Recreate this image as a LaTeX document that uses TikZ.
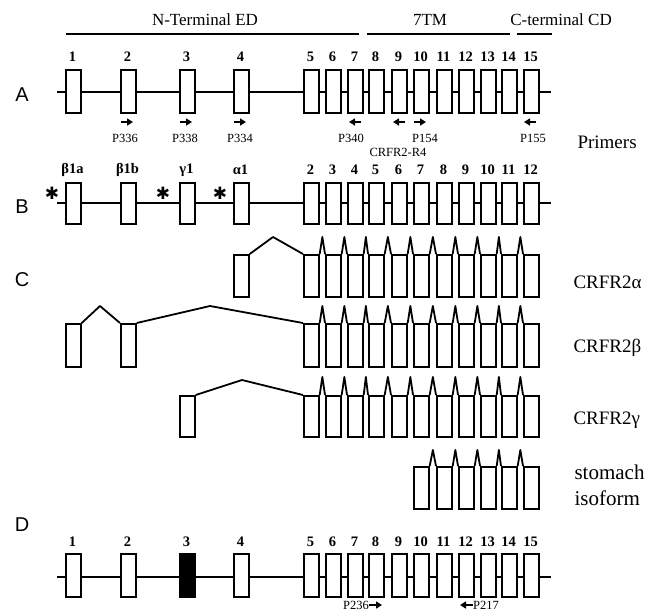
\documentclass[tikz,border=0pt]{standalone}
\usepackage{fontspec}
\setmainfont{Liberation Serif}
\newfontfamily\lsans{Liberation Sans}
\newfontfamily\djv{DejaVu Sans}
\usetikzlibrary{arrows.meta,calc}
\begin{document}
\begin{tikzpicture}[x=1pt,y=-1pt,
  exon/.style={draw, line width=1.7pt, fill=white, minimum width=15pt, inner sep=0pt, anchor=north west},
  filled/.style={fill=black},
  gene/.style={line width=1.8pt},
  splice/.style={line width=1.8pt, line join=round},
  hline/.style={line width=2.4pt},
  parr/.style={line width=1.6pt, -{Triangle[length=6pt,width=7pt]}},
  small/.style={font=\fontsize{12.5}{14}\selectfont},
  num/.style={font=\fontsize{14.5}{16}\selectfont\bfseries},
  head/.style={font=\fontsize{17}{20}\selectfont},
  big/.style={font=\fontsize{19}{22}\selectfont, anchor=west},
  rowl/.style={font=\lsans\fontsize{20}{22}\selectfont},
  star/.style={font=\djv\fontsize{17}{17}\selectfont}
]
\useasboundingbox (0,0) rectangle (668,614);

% ---------- header ----------
\node[head] (hN) at (205,20) {N-Terminal ED};
\node[head] (hT) at (430,20) {7TM};
\node[head] (hC) at (561,20) {C-terminal CD};
\draw[hline] (66,34) -- (359,34);
\draw[hline] (367,34) -- (510,34);
\draw[hline] (517,34) -- (552,34);

% ---------- row A ----------
\node[rowl] (lA) at (22,95) {A};
\draw[gene] (57,92) -- (551,92);
\foreach \x [count=\i] in {65,120,179,233,303,325,347,368,391,413,436,458,480,501,523}{
  \node[exon, minimum height=43pt] (A\i) at (\x,69) {};
  \node[num] (nA\i) at (\x+7.5,57) {\i};
}
% primers
\foreach \x in {127,186,240,420}{
  \draw[parr] (\x-6,122) -- (\x+6,122);
}
\foreach \x in {355,399,530}{
  \draw[parr] (\x+6,122) -- (\x-6,122);
}
\node[small] (p336) at (125,138) {P336};
\node[small] (p338) at (185,138) {P338};
\node[small] (p334) at (240,138) {P334};
\node[small] (p340) at (351,138) {P340};
\node[small] (p154) at (425,138) {P154};
\node[small] (p155) at (533,138) {P155};
\node[small] (r4) at (398,152) {CRFR2-R4};
\node[big] (prim) at (574,142) {Primers};

% ---------- row B ----------
\node[rowl] (lB) at (22,207) {B};
\draw[gene] (57,203) -- (551,203);
\foreach \x/\l [count=\i] in {65/β1a,120/β1b,179/γ1,233/α1,303/2,325/3,347/4,368/5,391/6,413/7,436/8,458/9,480/10,501/11,523/12}{
  \node[exon, minimum height=41pt] (B\i) at (\x,182) {};
  \node[num] (nB\i) at (\x+7.5,170) {\l};
}
\node[star] (s1) at (52,193) {✱};
\node[star] (s2) at (163,193) {✱};
\node[star] (s3) at (220,193) {✱};

% ---------- row C ----------
\node[rowl] (lC) at (22,280) {C};

% alpha
\node[exon, minimum height=42pt] (Ca0) at (233,254) {};
\foreach \x [count=\i] in {303,325,347,368,391,413,436,458,480,501,523}{
  \node[exon, minimum height=42pt] (Ca\i) at (\x,254) {};
}
\draw[splice] (Ca0.north east) -- (273,237) -- (Ca1.north west);
\foreach \i [evaluate=\i as \j using int(\i+1)] in {1,...,10}{
  \draw[splice] (Ca\i.north east) -- ($(Ca\i.north east)!.5!(Ca\j.north west)+(0,-17)$) -- (Ca\j.north west);
}
\node[big] (tA) at (570,282) {CRFR2α};

% beta
\node[exon, minimum height=43pt] (Cbb1) at (65,323) {};
\node[exon, minimum height=43pt] (Cbb2) at (120,323) {};
\foreach \x [count=\i] in {303,325,347,368,391,413,436,458,480,501,523}{
  \node[exon, minimum height=43pt] (Cb\i) at (\x,323) {};
}
\draw[splice] (Cbb1.north east) -- (100,306) -- (Cbb2.north west);
\draw[splice] (Cbb2.north east) -- (210,306) -- (Cb1.north west);
\foreach \i [evaluate=\i as \j using int(\i+1)] in {1,...,10}{
  \draw[splice] (Cb\i.north east) -- ($(Cb\i.north east)!.5!(Cb\j.north west)+(0,-17)$) -- (Cb\j.north west);
}
\node[big] (tB) at (570,348) {CRFR2β};

% gamma
\node[exon, minimum height=41pt] (Cg0) at (179,395) {};
\foreach \x [count=\i] in {303,325,347,368,391,413,436,458,480,501,523}{
  \node[exon, minimum height=41pt] (Cg\i) at (\x,395) {};
}
\draw[splice] (Cg0.north east) -- (242,380) -- (Cg1.north west);
\foreach \i [evaluate=\i as \j using int(\i+1)] in {1,...,10}{
  \draw[splice] (Cg\i.north east) -- ($(Cg\i.north east)!.5!(Cg\j.north west)+(0,-18)$) -- (Cg\j.north west);
}
\node[big] (tG) at (570,420) {CRFR2γ};

% stomach isoform
\foreach \x [count=\i] in {413,436,458,480,501,523}{
  \node[exon, minimum height=42pt] (Cs\i) at (\x,466) {};
}
\foreach \i [evaluate=\i as \j using int(\i+1)] in {1,...,5}{
  \draw[splice] (Cs\i.north east) -- ($(Cs\i.north east)!.5!(Cs\j.north west)+(0,-16)$) -- (Cs\j.north west);
}
\node[big, font=\fontsize{21}{24}\selectfont] (tS1) at (571,472) {stomach};
\node[big, font=\fontsize{21}{24}\selectfont] (tS2) at (571,498) {isoform};

% ---------- row D ----------
\node[rowl] (lD) at (22,525) {D};
\draw[gene] (57,577) -- (551,577);
\foreach \x [count=\i] in {65,120,179,233,303,325,347,368,391,413,436,458,480,501,523}{
  \node[exon, minimum height=43pt] (D\i) at (\x,553) {};
  \node[num] (nD\i) at (\x+7.5,542) {\i};
}
\node[exon, filled, minimum height=43pt] (D3f) at (179,553) {};
\node[small, anchor=east, inner sep=0pt] (p236) at (369,605) {P236};
\draw[parr] (p236.east) -- ++(13,0);
\node[small, anchor=west, inner sep=0pt] (p217) at (473,605) {P217};
\draw[parr] (p217.west) -- ++(-13,0);
\end{tikzpicture}
\end{document}
